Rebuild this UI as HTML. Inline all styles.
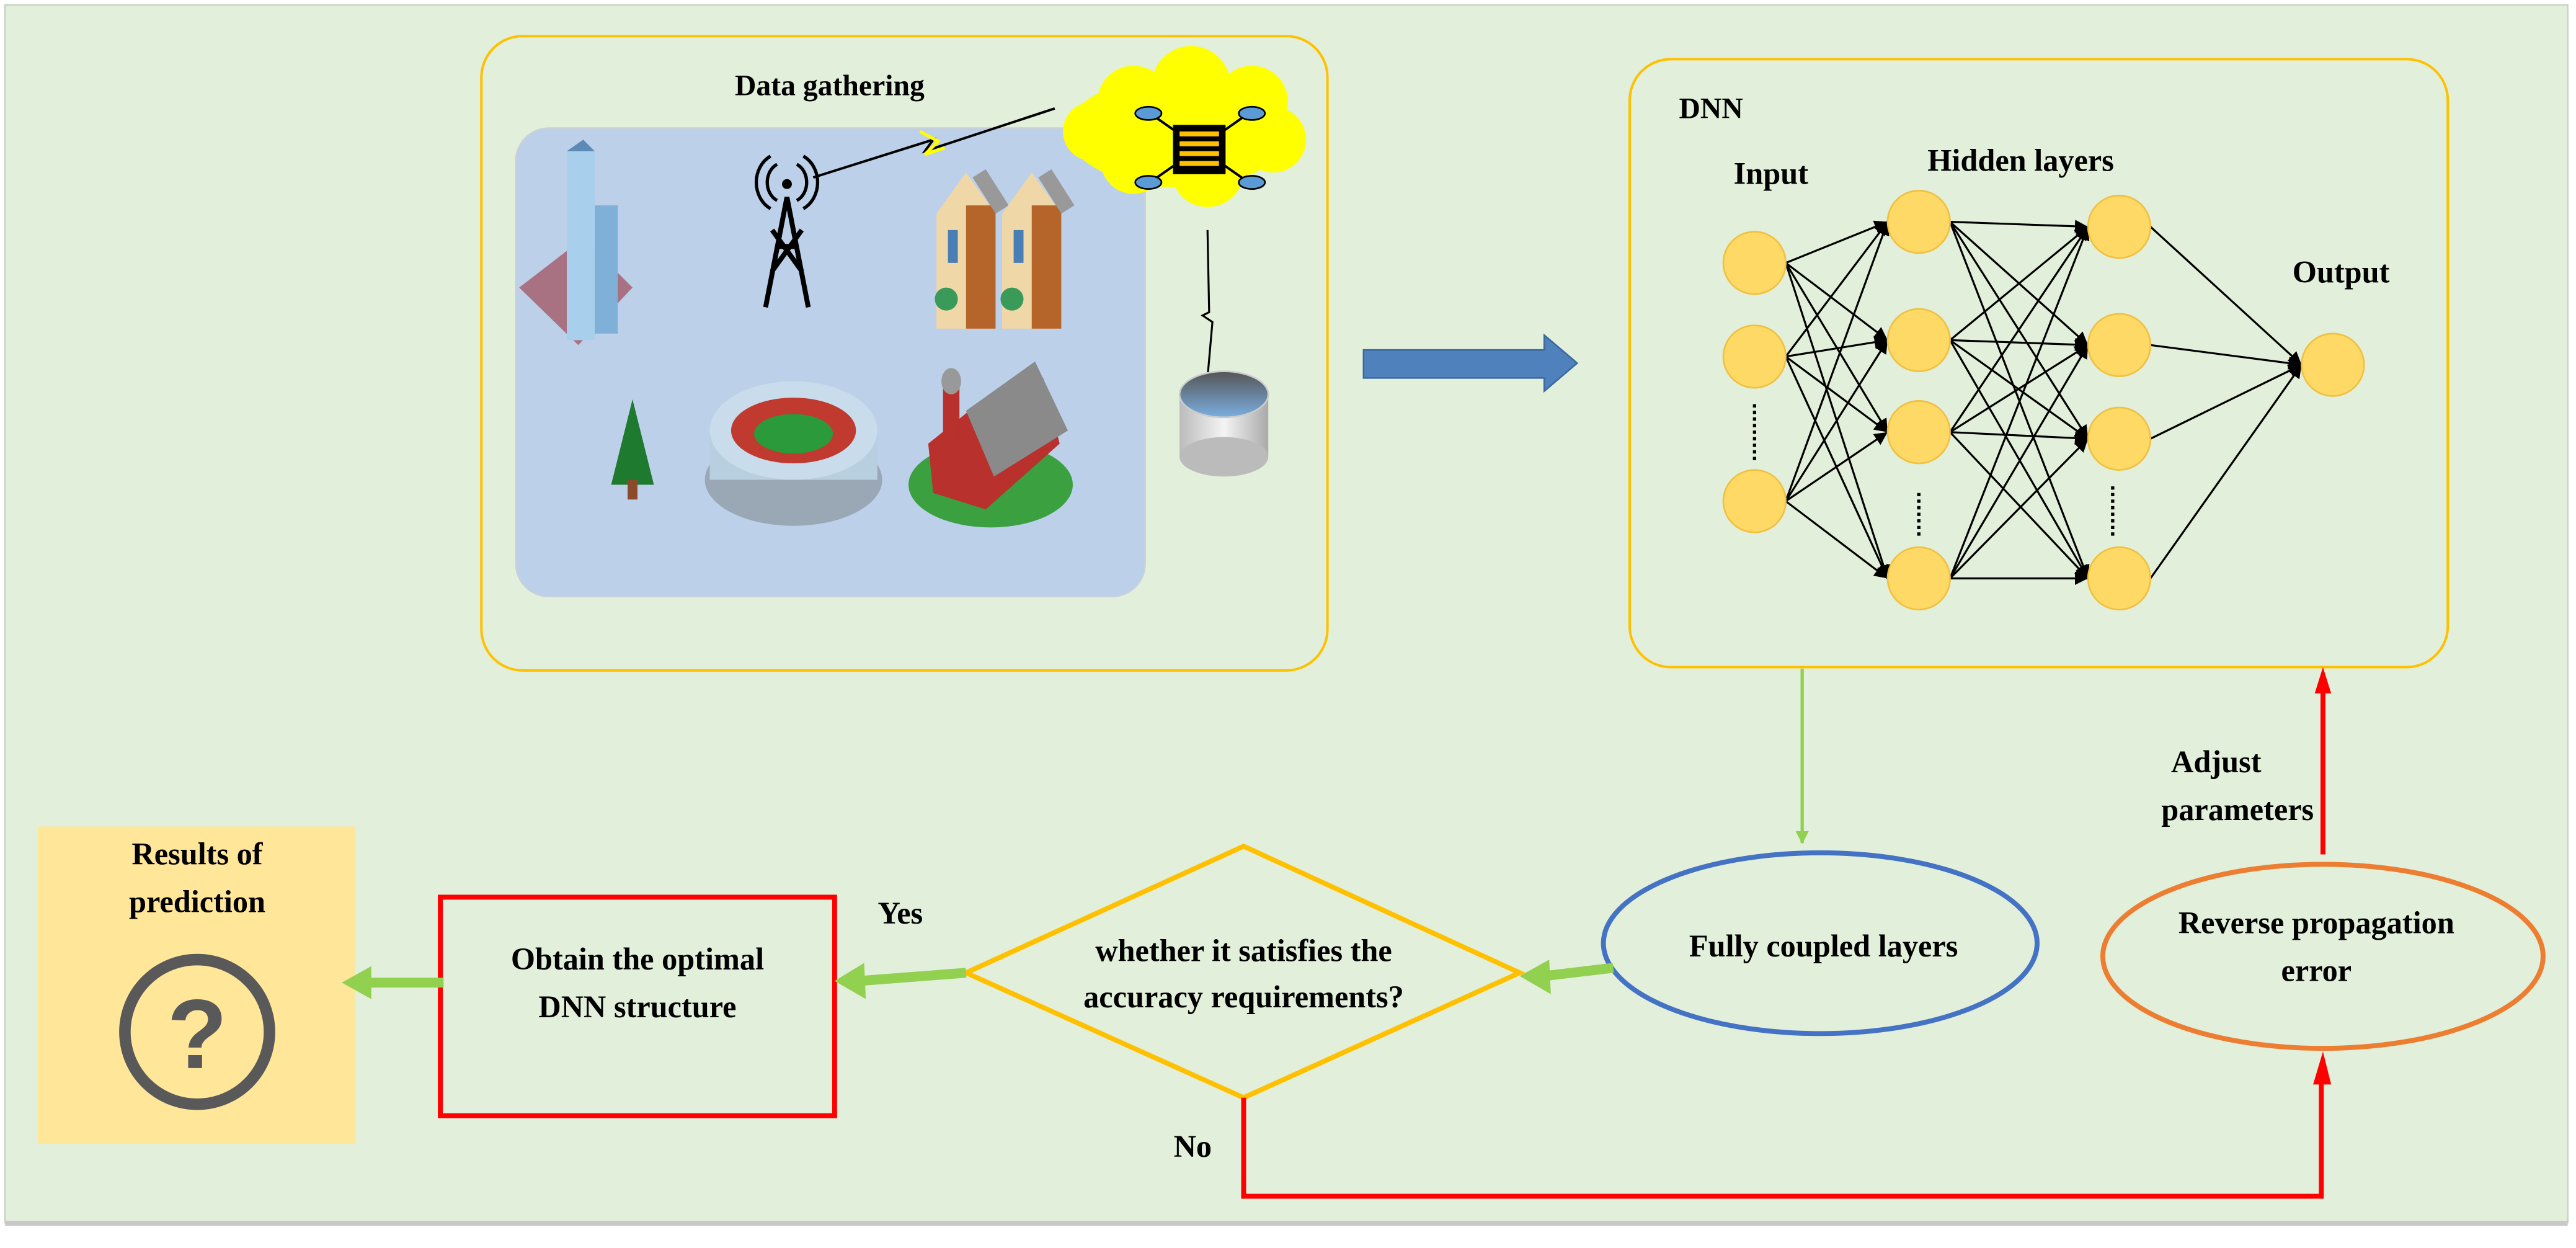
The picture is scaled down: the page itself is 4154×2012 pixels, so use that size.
<!DOCTYPE html>
<html><head><meta charset="utf-8"><style>html,body{margin:0;padding:0;background:#fff}svg{display:block}text{font-family:"Liberation Serif",serif;font-weight:bold;fill:#000}</style></head><body>
<svg width="4154" height="2012" viewBox="0 0 1568 759.5" xmlns="http://www.w3.org/2000/svg">
<defs>
<marker id="ag" viewBox="0 0 10 10" refX="9" refY="5" markerWidth="4" markerHeight="4" orient="auto"><path d="M0,0L10,5L0,10z" fill="#92d050"/></marker>
<marker id="ak" viewBox="0 0 10 10" refX="10" refY="5" markerWidth="8" markerHeight="8" orient="auto" markerUnits="userSpaceOnUse"><path d="M0,0L10,5L0,10z" fill="#000"/></marker>
<linearGradient id="cyl" x1="0" x2="1"><stop offset="0" stop-color="#bbb"/><stop offset=".5" stop-color="#f4f4f4"/><stop offset="1" stop-color="#aaa"/></linearGradient>
<linearGradient id="cyt" x1="0" y1="0" x2="0" y2="1"><stop offset="0" stop-color="#555"/><stop offset="1" stop-color="#7aaee0"/></linearGradient>
</defs>
<rect x="0" y="0" width="1568" height="759.5" fill="#fff"/>
<rect x="3" y="3" width="1560" height="741" fill="#e2efda" stroke="#c9d5c2" stroke-width="1"/>
<rect x="3" y="743" width="1560" height="3" fill="#c8c8c8"/>
<rect x="293" y="22" width="515" height="386" rx="25" fill="#e2efda" stroke="#ffc000" stroke-width="1.5"/>
<rect x="314" y="78" width="383" height="285" rx="20" fill="#bcd0ea" stroke="#c8d0dc"/>
<text x="505" y="58" font-size="18" text-anchor="middle">Data gathering</text>
<polygon points="316,175 355,145 385,175 352,210" fill="#a87282"/>
<rect x="345" y="92" width="17" height="115" fill="#a8d0ec"/><rect x="362" y="125" width="14" height="78" fill="#7fb0d8"/>
<polygon points="345,92 355,85 362,92" fill="#5a8ab5"/>
<g stroke="#000" stroke-width="3" fill="none"><path d="M466,187L479,120L492,187M470,165L488,140M488,165L470,140M473,150H485"/><path d="M473,100a10,12 0 0 0 0,22M485,100a10,12 0 0 1 0,22M469,95a16,18 0 0 0 0,32M489,95a16,18 0 0 1 0,32" stroke-width="2"/></g>
<circle cx="479" cy="112" r="3" fill="#000"/>
<polyline points="495,108 568,85 563,92 642,66" fill="none" stroke="#000" stroke-width="1.5"/>
<polyline points="560,80 571,86 563,94 575,90" fill="none" stroke="#ff0" stroke-width="2"/>
<g><polygon points="570,130 588,105 606,130 606,200 570,200" fill="#f0d7a8"/><rect x="588" y="125" width="18" height="75" fill="#b5652a"/><polygon points="592,108 606,130 614,125 600,103" fill="#999"/>
<polygon points="610,130 628,105 646,130 646,200 610,200" fill="#f0d7a8"/><rect x="628" y="125" width="18" height="75" fill="#b5652a"/><polygon points="632,108 646,130 654,125 640,103" fill="#999"/>
<rect x="577" y="140" width="6" height="20" fill="#4a7fb5"/><rect x="617" y="140" width="6" height="20" fill="#4a7fb5"/>
<circle cx="576" cy="182" r="7" fill="#3a9a5a"/><circle cx="616" cy="182" r="7" fill="#3a9a5a"/></g>
<polygon points="385,243 372,295 398,295" fill="#1e7a2e"/><rect x="382" y="292" width="6" height="12" fill="#8b4a2a"/>
<ellipse cx="483" cy="292" rx="54" ry="28" fill="#9aa8b5"/><rect x="432" y="262" width="102" height="30" fill="#b8cfe0"/><ellipse cx="483" cy="262" rx="51" ry="30" fill="#c9dceb"/><ellipse cx="483" cy="262" rx="38" ry="20" fill="#c03a30"/><ellipse cx="483" cy="264" rx="24" ry="12" fill="#2a9a3a"/>
<ellipse cx="603" cy="295" rx="50" ry="26" fill="#3aa040"/><polygon points="565,270 590,250 635,230 645,270 600,310 568,300" fill="#b8312c"/><polygon points="588,250 630,220 650,262 605,290" fill="#8a8a8a"/><rect x="574" y="232" width="10" height="40" fill="#b8312c"/><ellipse cx="579" cy="232" rx="6" ry="8" fill="#999"/>
<g fill="#ff0"><ellipse cx="718" cy="80" rx="68" ry="34"/><circle cx="690" cy="62" r="22"/><circle cx="725" cy="52" r="24"/><circle cx="762" cy="62" r="22"/><circle cx="775" cy="85" r="20"/><circle cx="690" cy="98" r="20"/><circle cx="735" cy="104" r="22"/><circle cx="665" cy="80" r="18"/></g>
<g stroke="#000" stroke-width="1.5"><line x1="700" y1="69" x2="760" y2="111"/><line x1="760" y1="69" x2="700" y2="111"/></g>
<g fill="#5b9bd5" stroke="#000" stroke-width="1"><ellipse cx="699" cy="69" rx="8" ry="4"/><ellipse cx="762" cy="69" rx="8" ry="4"/><ellipse cx="699" cy="111" rx="8" ry="4"/><ellipse cx="762" cy="111" rx="8" ry="4"/></g>
<rect x="714" y="76" width="32" height="30" fill="#000"/>
<g fill="#ffc000"><rect x="718" y="80" width="24" height="3"/><rect x="718" y="86" width="24" height="3"/><rect x="718" y="92" width="24" height="3"/><rect x="718" y="98" width="24" height="3"/></g>
<polyline points="735,140 736,190 732,192 738,196 735,230" fill="none" stroke="#000" stroke-width="1.2"/>
<rect x="718" y="238" width="54" height="40" fill="url(#cyl)"/><ellipse cx="745" cy="278" rx="27" ry="12" fill="#bbb"/><ellipse cx="745" cy="240" rx="27" ry="14" fill="url(#cyt)" stroke="#ccc"/>
<polygon points="830,213 940,213 940,204 960,221 940,238 940,230 830,230" fill="#4f81bd" stroke="#3a6aa0"/>
<rect x="992" y="36" width="498" height="370" rx="25" fill="#e2efda" stroke="#ffc000" stroke-width="1.5"/>
<text x="1022" y="72" font-size="18">DNN</text>
<text x="1078" y="112" font-size="19" text-anchor="middle">Input</text>
<text x="1230" y="104" font-size="19" text-anchor="middle">Hidden layers</text>
<text x="1425" y="172" font-size="19" text-anchor="middle">Output</text>
<g stroke="#000" stroke-width="1.2" marker-end="url(#ak)">
<line x1="1087" y1="160" x2="1149" y2="135"/><line x1="1087" y1="160" x2="1149" y2="207"/><line x1="1087" y1="160" x2="1149" y2="263"/><line x1="1087" y1="160" x2="1149" y2="352"/>
<line x1="1087" y1="217" x2="1149" y2="135"/><line x1="1087" y1="217" x2="1149" y2="207"/><line x1="1087" y1="217" x2="1149" y2="263"/><line x1="1087" y1="217" x2="1149" y2="352"/>
<line x1="1087" y1="305" x2="1149" y2="135"/><line x1="1087" y1="305" x2="1149" y2="207"/><line x1="1087" y1="305" x2="1149" y2="263"/><line x1="1087" y1="305" x2="1149" y2="352"/>
<line x1="1187" y1="135" x2="1271" y2="138"/><line x1="1187" y1="135" x2="1271" y2="210"/><line x1="1187" y1="135" x2="1271" y2="267"/><line x1="1187" y1="135" x2="1271" y2="352"/>
<line x1="1187" y1="207" x2="1271" y2="138"/><line x1="1187" y1="207" x2="1271" y2="210"/><line x1="1187" y1="207" x2="1271" y2="267"/><line x1="1187" y1="207" x2="1271" y2="352"/>
<line x1="1187" y1="263" x2="1271" y2="138"/><line x1="1187" y1="263" x2="1271" y2="210"/><line x1="1187" y1="263" x2="1271" y2="267"/><line x1="1187" y1="263" x2="1271" y2="352"/>
<line x1="1187" y1="352" x2="1271" y2="138"/><line x1="1187" y1="352" x2="1271" y2="210"/><line x1="1187" y1="352" x2="1271" y2="267"/><line x1="1187" y1="352" x2="1271" y2="352"/>
<line x1="1309" y1="138" x2="1401" y2="222"/><line x1="1309" y1="210" x2="1401" y2="222"/><line x1="1309" y1="267" x2="1401" y2="222"/><line x1="1309" y1="352" x2="1401" y2="222"/>
</g>
<g fill="#ffd966" stroke="#f0c040" stroke-width="1">
<circle cx="1068" cy="160" r="19"/><circle cx="1068" cy="217" r="19"/><circle cx="1068" cy="305" r="19"/>
<circle cx="1168" cy="135" r="19"/><circle cx="1168" cy="207" r="19"/><circle cx="1168" cy="263" r="19"/><circle cx="1168" cy="352" r="19"/>
<circle cx="1290" cy="138" r="19"/><circle cx="1290" cy="210" r="19"/><circle cx="1290" cy="267" r="19"/><circle cx="1290" cy="352" r="19"/>
<circle cx="1420" cy="222" r="19"/></g>
<g stroke="#000" stroke-width="2" stroke-dasharray="2,2"><line x1="1068" y1="246" x2="1068" y2="282"/><line x1="1168" y1="300" x2="1168" y2="328"/><line x1="1286" y1="296" x2="1286" y2="326"/></g>
<line x1="1097" y1="407" x2="1097" y2="513" stroke="#92d050" stroke-width="2" marker-end="url(#ag)"/>
<ellipse cx="1108" cy="574" rx="132" ry="55" fill="#e2efda" stroke="#4472c4" stroke-width="3"/>
<text x="1110" y="582" font-size="19" text-anchor="middle">Fully coupled layers</text>
<ellipse cx="1414" cy="582" rx="134" ry="56" fill="#e2efda" stroke="#ed7d31" stroke-width="3"/>
<text x="1410" y="568" font-size="19" text-anchor="middle">Reverse propagation</text>
<text x="1410" y="597" font-size="19" text-anchor="middle">error</text>
<line x1="1414" y1="520" x2="1414" y2="420" stroke="#f00" stroke-width="3"/><polygon points="1409,422 1414,406 1419,422" fill="#f00"/>
<text x="1349" y="470" font-size="19" text-anchor="middle">Adjust</text>
<text x="1362" y="499" font-size="19" text-anchor="middle">parameters</text>
<polygon points="757,515 925,592 757,668 588,592" fill="#e2efda" stroke="#ffc000" stroke-width="3"/>
<text x="757" y="585" font-size="19" text-anchor="middle">whether it satisfies the</text>
<text x="757" y="613" font-size="19" text-anchor="middle">accuracy requirements?</text>
<rect x="268" y="546" width="240" height="133" fill="#e2efda" stroke="#f00" stroke-width="3"/>
<text x="388" y="590" font-size="19" text-anchor="middle">Obtain the optimal</text>
<text x="388" y="619" font-size="19" text-anchor="middle">DNN structure</text>
<text x="548" y="562" font-size="19" text-anchor="middle">Yes</text>
<text x="726" y="704" font-size="19" text-anchor="middle">No</text>
<rect x="23" y="503" width="193" height="193" fill="#ffe699"/>
<text x="120" y="526" font-size="19" text-anchor="middle">Results of</text>
<text x="120" y="555" font-size="19" text-anchor="middle">prediction</text>
<circle cx="120" cy="628" r="44" fill="none" stroke="#595959" stroke-width="7"/>
<text x="120" y="650" font-size="60" text-anchor="middle" style="fill:#595959;font-family:'Liberation Sans',sans-serif">?</text>
<g stroke="#92d050" stroke-width="6"><line x1="982" y1="589" x2="940" y2="594"/><line x1="588" y1="592" x2="523" y2="597"/><line x1="270" y1="598" x2="222" y2="598"/></g>
<g fill="#92d050"><polygon points="925,594 943,584 944,605"/><polygon points="508,597 526,586 527,608"/><polygon points="208,598 226,588 226,608"/></g>
<polyline points="757,668 757,728 1413,728 1413,658" fill="none" stroke="#f00" stroke-width="3"/>
<polygon points="1408,660 1414,640 1419,660" fill="#f00"/>
</svg>
</body></html>
